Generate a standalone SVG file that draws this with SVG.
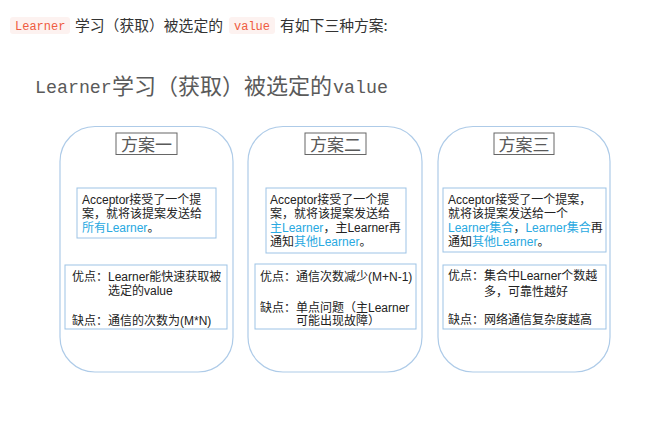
<svg xmlns="http://www.w3.org/2000/svg" width="647" height="433" viewBox="0 0 647 433">
<style>
.code{font-family:"Liberation Mono","Noto Sans CJK SC",monospace;font-size:12px;fill:#ef5b40}
.codebg{fill:#fdf2f0}
.intro{font-family:"Noto Sans CJK SC","Liberation Sans",sans-serif;font-size:14.8px;fill:#333}
.ttl-lat{font-family:"Liberation Mono",monospace;font-size:18.3px;fill:#5a5a5a}
.ttl-cjk{font-family:"Noto Sans CJK SC",sans-serif;font-size:22px;fill:#5a5a5a}
.panel{fill:#fff;stroke:#aecbe8;stroke-width:1.2}
.hdr{fill:#fff;stroke:#666;stroke-width:1}
.hdrt{font-family:"Noto Sans CJK SC",sans-serif;font-size:17px;fill:#595959;text-anchor:middle}
.box{fill:#fff;stroke:#9dc3e6;stroke-width:1}
.t{font-family:"Liberation Sans","Noto Sans CJK SC",sans-serif;font-size:12px;fill:#222}
.b{fill:#29a9e1}
</style>
<rect width="647" height="433" fill="#fff"/>
<g id="intro">
<rect class="codebg" x="10" y="17" width="60" height="17" rx="3"/>
<text class="code" x="15" y="29.5">Learner</text>
<text class="intro" x="75" y="31">学习（获取）被选定的</text>
<rect class="codebg" x="229" y="17" width="46" height="17" rx="3"/>
<text class="code" x="234" y="29.5">value</text>
<text class="intro" x="280" y="31">有如下三种方案:</text>
</g>
<g id="title">
<text class="ttl-lat" x="35" y="93">Learner</text>
<text class="ttl-cjk" x="112" y="94">学习（获取）被选定的</text>
<text class="ttl-lat" x="333" y="93">value</text>
</g>
<g id="scheme1">
<rect class="panel" x="60" y="126.5" width="173" height="245.5" rx="35"/>
<rect class="hdr" x="116" y="133" width="61" height="21.5"/>
<text class="hdrt" x="146.5" y="150.5">方案一</text>
<rect class="box" x="77" y="188" width="139" height="50"/>
<text class="t" x="82" y="204">Acceptor接受了一个提</text>
<text class="t" x="82" y="218">案，就将该提案发送给</text>
<text class="t" x="82" y="231.5"><tspan class="b">所有Learner</tspan>。</text>
<rect class="box" x="65" y="265" width="162" height="64"/>
<text class="t" x="72" y="281">优点：Learner能快速获取被</text>
<text class="t" x="108" y="294.5">选定的value</text>
<text class="t" x="72" y="325">缺点：通信的次数为(M*N)</text>
</g>
<g id="scheme2">
<rect class="panel" x="248" y="126.5" width="174" height="245.5" rx="35"/>
<rect class="hdr" x="305" y="133" width="61" height="21.5"/>
<text class="hdrt" x="335.5" y="150.5">方案二</text>
<rect class="box" x="266" y="188" width="140" height="65"/>
<text class="t" x="270" y="204">Acceptor接受了一个提</text>
<text class="t" x="270" y="218">案，就将该提案发送给</text>
<text class="t" x="270" y="232"><tspan class="b">主Learner</tspan>，主Learner再</text>
<text class="t" x="270" y="245.5">通知<tspan class="b">其他Learner</tspan>。</text>
<rect class="box" x="255" y="264" width="161" height="65"/>
<text class="t" x="260" y="281">优点：通信次数减少(M+N-1)</text>
<text class="t" x="260" y="312">缺点：单点问题（主Learner</text>
<text class="t" x="296" y="325">可能出现故障）</text>
</g>
<g id="scheme3">
<rect class="panel" x="438" y="126.5" width="172" height="245.5" rx="35"/>
<rect class="hdr" x="494" y="133" width="60" height="21.5"/>
<text class="hdrt" x="524" y="150.5">方案三</text>
<rect class="box" x="443" y="188" width="163" height="64"/>
<text class="t" x="448" y="204">Acceptor接受了一个提案，</text>
<text class="t" x="448" y="218">就将该提案发送给一个</text>
<text class="t" x="448" y="232"><tspan class="b">Learner集合</tspan>，<tspan class="b">Learner集合</tspan>再</text>
<text class="t" x="448" y="245.5">通知<tspan class="b">其他Learner</tspan>。</text>
<rect class="box" x="443" y="265" width="163" height="64"/>
<text class="t" x="448" y="280">优点：集合中Learner个数越</text>
<text class="t" x="484" y="296">多，可靠性越好</text>
<text class="t" x="448" y="324">缺点：网络通信复杂度越高</text>
</g>
<g id="connectors"></g>
</svg>
